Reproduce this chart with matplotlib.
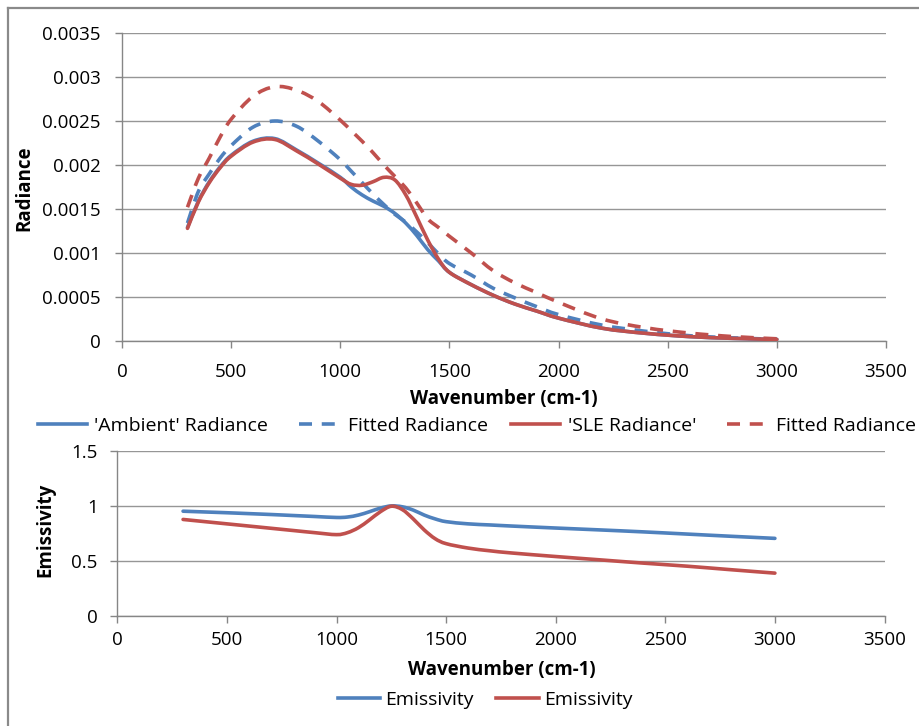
import numpy as np
import matplotlib
matplotlib.use("Agg")
import matplotlib.pyplot as plt
from matplotlib.path import Path
from matplotlib.patches import PathPatch
from matplotlib.lines import Line2D

# ---- radiance spectra (W m-2 sr-1 / cm-1) ----
wavenumber = [300, 350, 400, 450, 500, 600, 700, 800, 900, 1000, 1050, 1100,
              1150, 1200, 1250, 1300, 1350, 1400, 1450, 1500, 1600, 1700,
              1800, 1900, 2000, 2200, 2400, 2600, 2800, 3000]
ambient_radiance = [0.00129, 0.00159, 0.00181, 0.00198, 0.00211, 0.00227,
                    0.00230, 0.00217, 0.00202, 0.00186, 0.00175, 0.00166,
                    0.00159, 0.00153, 0.00145, 0.00134, 0.00120, 0.00104,
                    0.00091, 0.00078, 0.00064, 0.00052, 0.00042, 0.00034,
                    0.00026, 0.000145, 0.000087, 0.00005, 0.00003, 0.000018]
ambient_fitted = [0.00134, 0.00170, 0.00190, 0.00208, 0.00222, 0.00243,
                  0.00250, 0.00244, 0.00227, 0.00206, 0.00193, 0.00180,
                  0.00167, 0.00155, 0.00144, 0.00135, 0.00124, 0.00112,
                  0.00099, 0.00088, 0.00075, 0.00060, 0.00049, 0.00039,
                  0.00030, 0.00018, 0.00011, 0.00006, 0.000035, 0.00002]
sle_radiance = [0.00128, 0.00158, 0.00180, 0.00197, 0.00210, 0.00226,
                0.00229, 0.00216, 0.00201, 0.00185, 0.00178, 0.00177,
                0.00181, 0.00186, 0.00183, 0.00166, 0.00141, 0.00115,
                0.00093, 0.00078, 0.00064, 0.00052, 0.00042, 0.00034,
                0.00026, 0.000145, 0.000087, 0.00005, 0.00003, 0.000018]
sle_fitted = [0.00152, 0.00185, 0.00208, 0.00232, 0.00252, 0.00278,
              0.00289, 0.00285, 0.00272, 0.00251, 0.00239, 0.00227,
              0.00214, 0.00200, 0.00187, 0.00174, 0.00157, 0.00139,
              0.00129, 0.00119, 0.00100, 0.00080, 0.00066, 0.00055,
              0.00044, 0.00025, 0.00015, 0.00009, 0.00005, 0.000025]

# ---- emissivity spectra ----
emis_wavenumber = [300, 400, 500, 600, 700, 800, 900, 1000, 1050, 1100, 1150,
                   1200, 1250, 1300, 1350, 1400, 1450, 1500, 1600, 1700, 1800,
                   2000, 2200, 2400, 2600, 2800, 3000]
ambient_emissivity = [0.950, 0.943, 0.936, 0.928, 0.920, 0.911, 0.902, 0.893,
                      0.897, 0.915, 0.945, 0.978, 0.998, 0.990, 0.960, 0.915,
                      0.880, 0.855, 0.835, 0.825, 0.815, 0.797, 0.780, 0.762,
                      0.742, 0.722, 0.703]
sle_emissivity = [0.875, 0.855, 0.835, 0.815, 0.795, 0.775, 0.755, 0.737,
                  0.755, 0.800, 0.870, 0.945, 0.995, 0.965, 0.880, 0.780,
                  0.700, 0.655, 0.615, 0.590, 0.570, 0.538, 0.508, 0.478,
                  0.450, 0.418, 0.387]

# ---- axis ticks ----
x_ticks = [0, 500, 1000, 1500, 2000, 2500, 3000, 3500]
x_tick_labels = ["0", "500", "1000", "1500", "2000", "2500", "3000", "3500"]
radiance_ticks = [0, 0.0005, 0.001, 0.0015, 0.002, 0.0025, 0.003, 0.0035]
radiance_tick_labels = ["0", "0.0005", "0.001", "0.0015", "0.002", "0.0025",
                        "0.003", "0.0035"]
emis_ticks = [0, 0.5, 1, 1.5]
emis_tick_labels = ["0", "0.5", "1", "1.5"]

BLUE = "#4F81BD"
RED = "#C0504D"
AXIS_GREY = "#868686"
GRID_GREY = "#969696"
DASH = (0, (3.6, 2.7))
# legend key: two whole dashes centred in the key
DASH_KEY = (4.36, (3.6, 2.7))
LW = 2.6
FONT = "Open Sans"
FS = 13.5
LEG_FS = 14.0

plt.rcParams["font.family"] = [FONT, "DejaVu Sans"]


def smoothed_path(x, y):
    """Cubic Bezier path through the points (Catmull-Rom style smoothing)."""
    pts = np.column_stack([x, y]).astype(float)
    ext = np.vstack([pts[0], pts, pts[-1]])
    verts = [pts[0]]
    codes = [Path.MOVETO]
    for i in range(len(pts) - 1):
        p0, p1, p2, p3 = ext[i], ext[i + 1], ext[i + 2], ext[i + 3]
        verts += [p1 + (p2 - p0) / 6.0, p2 - (p3 - p1) / 6.0, p2]
        codes += [Path.CURVE4] * 3
    return Path(verts, codes)


def draw_series(ax, x, y, color, ls="-"):
    cap = "round" if ls == "-" else "butt"
    patch = PathPatch(smoothed_path(x, y), fill=False, edgecolor=color,
                      linewidth=LW, linestyle=ls, capstyle=cap,
                      joinstyle="round", transform=ax.transData, zorder=3)
    ax.add_patch(patch)


def style_axes(ax, yticks, ylabels, ypad, xpad):
    for side in ("top", "right"):
        ax.spines[side].set_visible(False)
    for side in ("left", "bottom"):
        ax.spines[side].set_color(AXIS_GREY)
        ax.spines[side].set_linewidth(1.0)
    ax.set_xlim(0, 3500)
    ax.set_ylim(yticks[0], yticks[-1])
    ax.set_xticks(x_ticks)
    ax.set_xticklabels(x_tick_labels)
    ax.set_yticks(yticks)
    ax.set_yticklabels(ylabels)
    ax.tick_params(axis="both", direction="out", length=5, width=1.0,
                   color=AXIS_GREY, labelcolor="black", labelsize=FS)
    ax.tick_params(axis="y", pad=ypad)
    ax.tick_params(axis="x", pad=xpad)
    ax.yaxis.grid(True, color=GRID_GREY, linewidth=1.0)
    ax.set_axisbelow(True)


fig = plt.figure(figsize=(9.19, 7.26), dpi=100)
W, H = 919.0, 726.0

# chart border
fig.add_artist(Line2D([7.5 / W, 7.5 / W], [0, 1 - 7.5 / H],
                      transform=fig.transFigure, color="#8a8a8a", lw=1.6))
fig.add_artist(Line2D([7.5 / W, 1], [1 - 7.5 / H, 1 - 7.5 / H],
                      transform=fig.transFigure, color="#8a8a8a", lw=1.6))

# ---- radiance panel ----
ax1 = fig.add_axes([122 / W, 1 - 341 / H, (886 - 122) / W, (341 - 33) / H])
style_axes(ax1, radiance_ticks, radiance_tick_labels, ypad=10.5, xpad=11)
draw_series(ax1, wavenumber, ambient_radiance, BLUE)
draw_series(ax1, wavenumber, ambient_fitted, BLUE, DASH)
draw_series(ax1, wavenumber, sle_radiance, RED)
draw_series(ax1, wavenumber, sle_fitted, RED, DASH)
ax1.set_xlabel("Wavenumber (cm-1)", fontsize=FS, fontweight="bold")
ax1.xaxis.set_label_coords(0.5, -0.155)
ax1.set_ylabel("Radiance", fontsize=FS, fontweight="bold")
ax1.yaxis.set_label_coords(-0.115, 0.495)

h1 = [Line2D([], [], color=BLUE, lw=LW),
      Line2D([], [], color=BLUE, lw=LW, ls=DASH_KEY),
      Line2D([], [], color=RED, lw=LW),
      Line2D([], [], color=RED, lw=LW, ls=DASH_KEY)]
l1 = ["'Ambient' Radiance", "Fitted Radiance", "'SLE Radiance'",
      "Fitted Radiance"]
fig.legend(h1, l1, loc="center", bbox_to_anchor=(477 / W, 1 - 426 / H),
           ncol=4, frameon=False, fontsize=LEG_FS, handlelength=2.5,
           handletextpad=0.4, columnspacing=1.2, borderaxespad=0)

# ---- emissivity panel ----
ax2 = fig.add_axes([117.3 / W, 1 - 615.7 / H, (884.5 - 117.3) / W,
                    (615.7 - 450.7) / H])
style_axes(ax2, emis_ticks, emis_tick_labels, ypad=9, xpad=6)
draw_series(ax2, emis_wavenumber, ambient_emissivity, BLUE)
draw_series(ax2, emis_wavenumber, sle_emissivity, RED)
ax2.set_xlabel("Wavenumber (cm-1)", fontsize=FS, fontweight="bold")
ax2.xaxis.set_label_coords(0.501, -0.27)
ax2.set_ylabel("Emissivity", fontsize=FS, fontweight="bold")
ax2.yaxis.set_label_coords(-0.081, 0.52)

h2 = [Line2D([], [], color=BLUE, lw=LW), Line2D([], [], color=RED, lw=LW)]
l2 = ["Emissivity", "Emissivity"]
fig.legend(h2, l2, loc="center", bbox_to_anchor=(485 / W, 1 - 700 / H),
           ncol=2, frameon=False, fontsize=LEG_FS, handlelength=2.2,
           handletextpad=0.25, columnspacing=1.15, borderaxespad=0)

fig.savefig("out.png", dpi=100)
